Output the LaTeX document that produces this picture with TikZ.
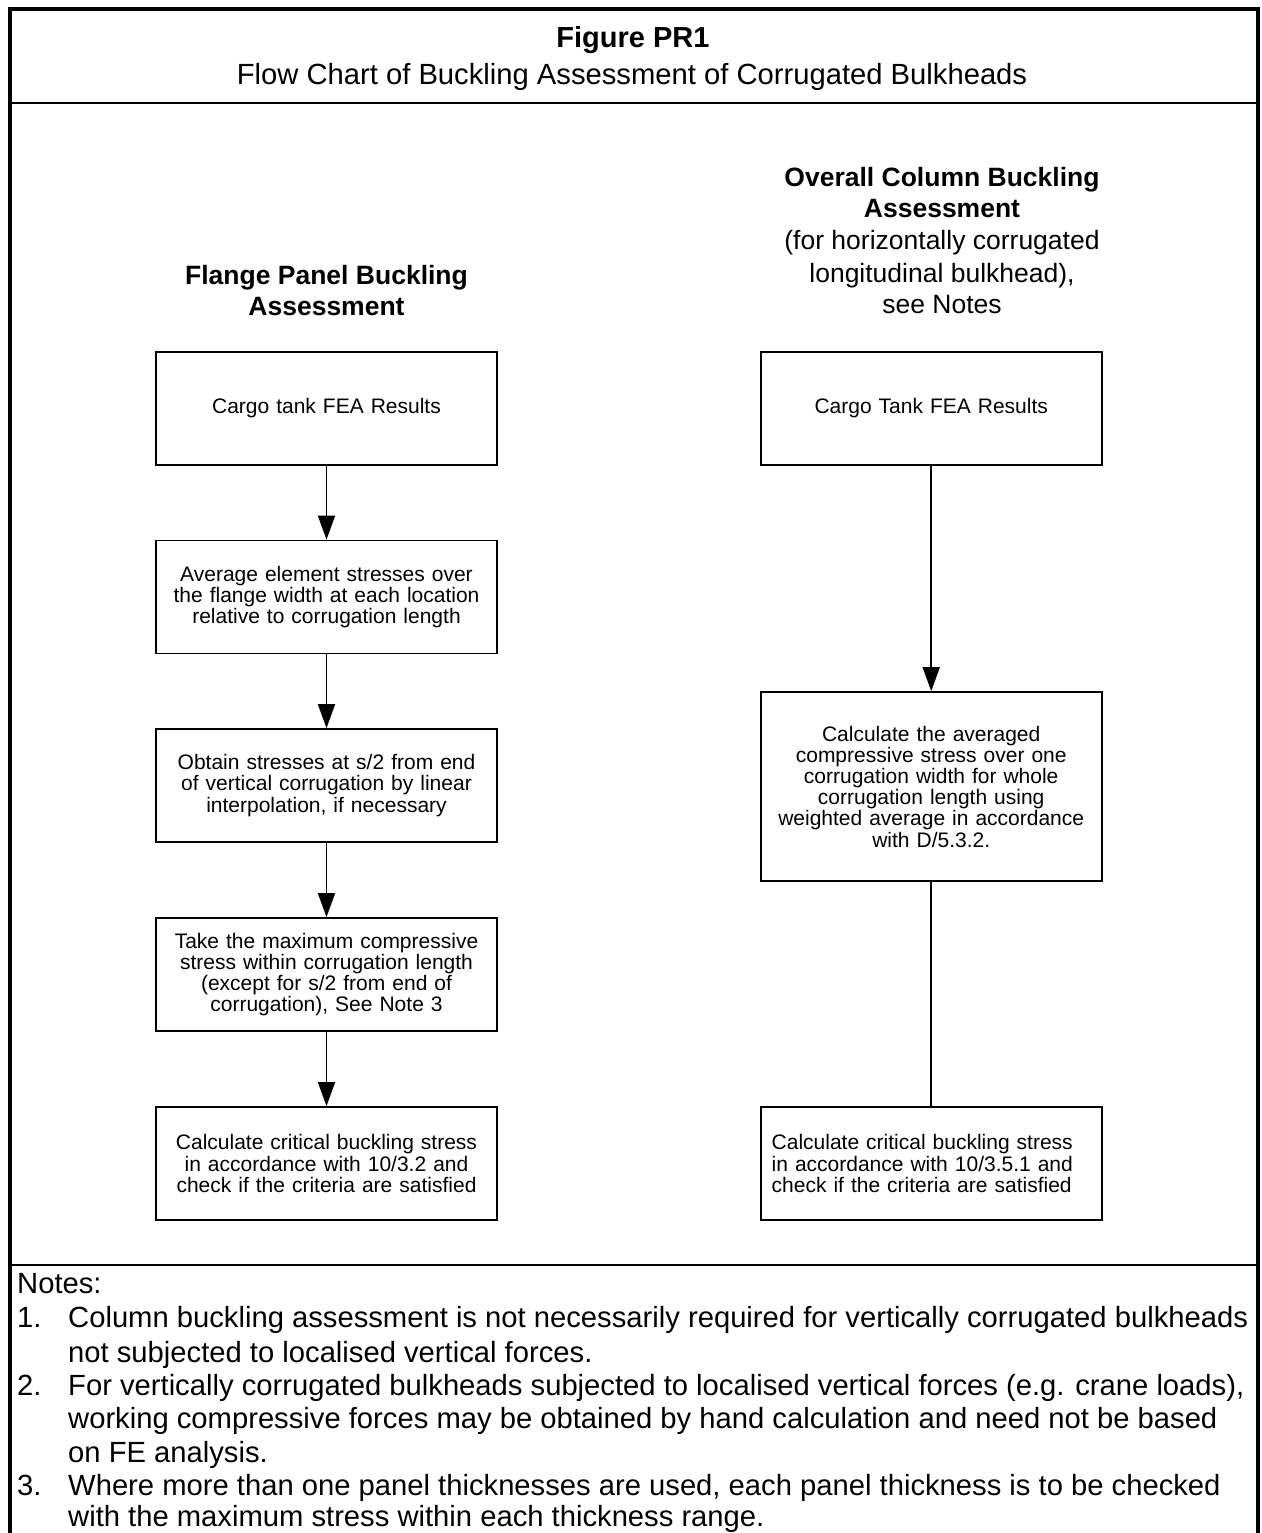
\documentclass[tikz,border=0pt]{standalone}
\usepackage{fontspec}
\setmainfont{Liberation Sans}
\usetikzlibrary{arrows.meta}
\begin{document}
\begin{tikzpicture}[x=1pt,y=-1pt,
  flowbox/.style={draw=black, line width=1.8pt, minimum width=341pt, minimum height=113pt,
    text width=330pt, inner sep=0pt, align=center, font=\fontsize{21}{21.2}\selectfont},
  leftbox/.style={flowbox, align=left, text width=319pt, inner xsep=11pt},
  flowarrow/.style={line width=1.8pt, -{Triangle[length=24pt,width=17pt]}},
  flowline/.style={line width=1.8pt},
  frame/.style={line width=4pt},
  sepline/.style={line width=2pt},
  bighead/.style={font=\fontsize{29}{34}\bfseries\selectfont, anchor=base},
  bigtext/.style={font=\fontsize{29.2}{34}\selectfont, anchor=base},
  secbold/.style={font=\fontsize{26.5}{32}\bfseries\selectfont, anchor=base},
  sectext/.style={font=\fontsize{26.5}{32}\selectfont, anchor=base},
  notetext/.style={font=\fontsize{29.2}{34}\selectfont, anchor=base west, inner sep=0pt}
]
\useasboundingbox (0,0) rectangle (1261,1533);
\fill[white] (0,0) rectangle (1261,1533);

% frame
\draw[frame] (10,1535) -- (10,9) -- (1258,9) -- (1258,1535);
\draw[sepline] (10,103) -- (1258,103);
\draw[sepline] (10,1265) -- (1258,1265);

% title
\node[bighead] (fig) at (633,48) {Figure PR1};
\node[bigtext] (title) at (632,85) {Flow Chart of Buckling Assessment of Corrugated Bulkheads};

% section heads
\node[secbold] (lh1) at (326.5,284) {Flange Panel Buckling};
\node[secbold] (lh2) at (326.5,315) {Assessment};
\node[secbold] (rh1) at (942,186) {Overall Column Buckling};
\node[secbold] (rh2) at (942,217.5) {Assessment};
\node[sectext] (rh3) at (942,249.5) {(for horizontally corrugated};
\node[sectext] (rh4) at (942,282) {longitudinal bulkhead),};
\node[sectext] (rh5) at (942,313) {see Notes};

% left column
\node[flowbox] (L1) at (326.5,408.5) {Cargo tank FEA Results};
\node[flowbox] (L2) at (326.5,597) {Average element stresses over\\the flange width at each location\\relative to corrugation length};
\node[flowbox] (L3) at (326.5,785.5) {Obtain stresses at s/2 from end\\of vertical corrugation by linear\\interpolation, if necessary};
\node[flowbox] (L4) at (326.5,974.5) {Take the maximum compressive\\stress within corrugation length\\(except for s/2 from end of\\corrugation), See Note 3};
\node[flowbox] (L5) at (326.5,1163.5) {Calculate critical buckling stress\\in accordance with 10/3.2 and\\check if the criteria are satisfied};

\draw[flowarrow] (L1.south) -- (L2.north);
\draw[flowarrow] (L2.south) -- (L3.north);
\draw[flowarrow] (L3.south) -- (L4.north);
\draw[flowarrow] (L4.south) -- (L5.north);

% right column
\node[flowbox] (R1) at (931.2,408.5) {Cargo Tank FEA Results};
\node[flowbox, minimum height=189pt] (R2) at (931.2,786.5) {Calculate the averaged\\compressive stress over one\\corrugation width for whole\\corrugation length using\\weighted average in accordance\\with D/5.3.2.};
\node[leftbox] (R3) at (931.2,1163.5) {Calculate critical buckling stress\\in accordance with 10/3.5.1 and\\check if the criteria are satisfied};

\draw[flowarrow] (R1.south) -- (R2.north);
\draw[flowline] (R2.south) -- (R3.north);

% notes
\node[notetext] (notes) at (17,1293.5) {Notes:};
\node[notetext] (n1) at (17,1327.5) {1.};
\node[notetext] (n1a) at (68,1327.5) {Column buckling assessment is not necessarily required for vertically corrugated bulkheads};
\node[notetext] (n1b) at (68,1362) {not subjected to localised vertical forces.};
\node[notetext] (n2) at (17,1395.5) {2.};
\node[notetext] (n2a) at (68,1395.5) {For vertically corrugated bulkheads subjected to localised vertical forces (e.g. crane loads),};
\node[notetext] (n2b) at (68,1428.5) {working compressive forces may be obtained by hand calculation and need not be based};
\node[notetext] (n2c) at (68,1462) {on FE analysis.};
\node[notetext] (n3) at (17,1495.5) {3.};
\node[notetext] (n3a) at (68,1495.5) {Where more than one panel thicknesses are used, each panel thickness is to be checked};
\node[notetext] (n3b) at (68,1526.5) {with the maximum stress within each thickness range.};
\end{tikzpicture}
\end{document}
